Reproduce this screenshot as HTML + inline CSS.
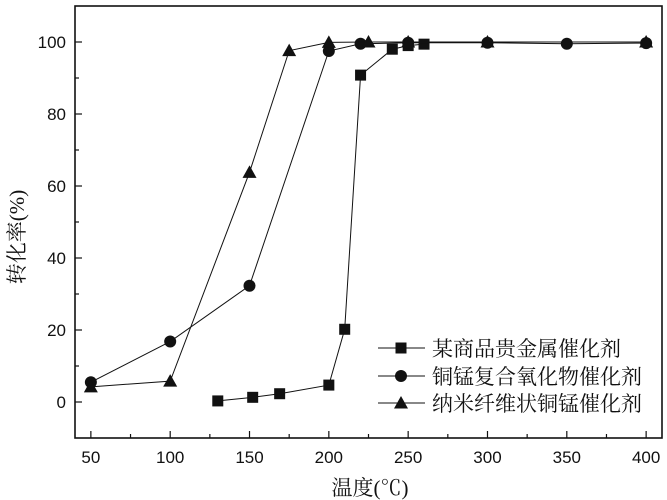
<!DOCTYPE html>
<html><head><meta charset="utf-8"><style>
body{margin:0;background:#fff}
svg{display:block}
text{font-family:"Liberation Sans","Noto Sans CJK SC",sans-serif;fill:#111}
text.serif{font-family:"Liberation Serif","Noto Serif CJK SC",serif}
</style></head><body>
<svg id="chart" width="667" height="500" viewBox="0 0 667 500"></svg>
<script>
const xTicks=[50,100,150,200,250,300,350,400];
const yTicks=[0,20,40,60,80,100];
const s1x=[130,152,169,200,210,220,240,250,260];
const s1y=[0.3,1.3,2.3,4.7,20.2,90.8,98,99,99.4];
const s2x=[50,100,150,200,220,250,300,350,400];
const s2y=[5.5,16.8,32.3,97.5,99.5,99.8,99.8,99.5,99.7];
const s3x=[50,100,150,175,200,225,250,300,400];
const s3y=[4.2,5.8,63.8,97.6,99.9,100,100,100,100];
const names=["某商品贵金属催化剂","铜锰复合氧化物催化剂","纳米纤维状铜锰催化剂"];
const NS="http://www.w3.org/2000/svg";
const svg=document.getElementById('chart');
const L=75,R=662,T=6,B=438;
const X=v=>L+(v-40)/(410-40)*(R-L);
const Y=v=>B-(v+10)/(120)*(B-T);
function el(t,a,p){const e=document.createElementNS(NS,t);for(const k in a)e.setAttribute(k,a[k]);(p||svg).appendChild(e);return e;}
const frame=el('rect',{x:L,y:T,width:R-L,height:B-T,fill:'none',stroke:'#111','stroke-width':1.6});


for(let v=50;v<=400;v+=25){const major=v%50===0;
 const t=el('line',{x1:X(v),x2:X(v),y1:B,y2:B-(major?7:4),stroke:'#111','stroke-width':1.2});
 
 }
xTicks.forEach(v=>{const t=el('text',{x:X(v),y:463,'text-anchor':'middle','font-size':17});t.textContent=v;
 
 });
for(let v=0;v<=100;v+=10){const major=v%20===0;
 const t=el('line',{x1:L,x2:L+(major?7:4),y1:Y(v),y2:Y(v),stroke:'#111','stroke-width':1.2});
 
 }
yTicks.forEach(v=>{const t=el('text',{x:66,y:Y(v)+6,'text-anchor':'end','font-size':17});t.textContent=v;
 
 });
const xt=el('text',{x:370,y:495,'text-anchor':'middle','font-size':21,class:'serif'});xt.textContent='温度(℃)';


const yt=el('text',{x:0,y:0,'text-anchor':'middle','font-size':21,class:'serif',transform:'translate(24,237) rotate(-90)'});yt.textContent='转化率(%)';


function marker(k,cx,cy,g){
 if(k===0)return el('rect',{x:cx-5.5,y:cy-5.5,width:11,height:11,fill:'#111'},g);
 if(k===1)return el('circle',{cx:cx,cy:cy,r:6,fill:'#111'},g);
 return el('polygon',{points:`${cx},${cy-7} ${cx-7},${cy+5.5} ${cx+7},${cy+5.5}`,fill:'#111'},g);
}
const series=[[s1x,s1y],[s2x,s2y],[s3x,s3y]];
const snames=['series-precious-metal','series-cumn-oxide','series-nanofiber-cumn'];
series.forEach(([xs,ys],k)=>{
 const g=el('g',{});
 
 
 const pl=el('polyline',{points:xs.map((x,i)=>X(x)+','+Y(ys[i])).join(' '),fill:'none',stroke:'#111','stroke-width':1},g);
 
 
 xs.forEach((x,i)=>{const m=marker(k,X(x),Y(ys[i]),g);
  
  });
});
const ly=[348,376,403];
names.forEach((n,k)=>{
 const g=el('g',{});
 
 
 el('line',{x1:378,x2:425,y1:ly[k],y2:ly[k],stroke:'#111','stroke-width':1},g);
 marker(k,401,ly[k],g);
 const t=el('text',{x:432,y:ly[k]+8,'font-size':21,class:'serif'},g);t.textContent=n;
});
</script>
</body></html>
